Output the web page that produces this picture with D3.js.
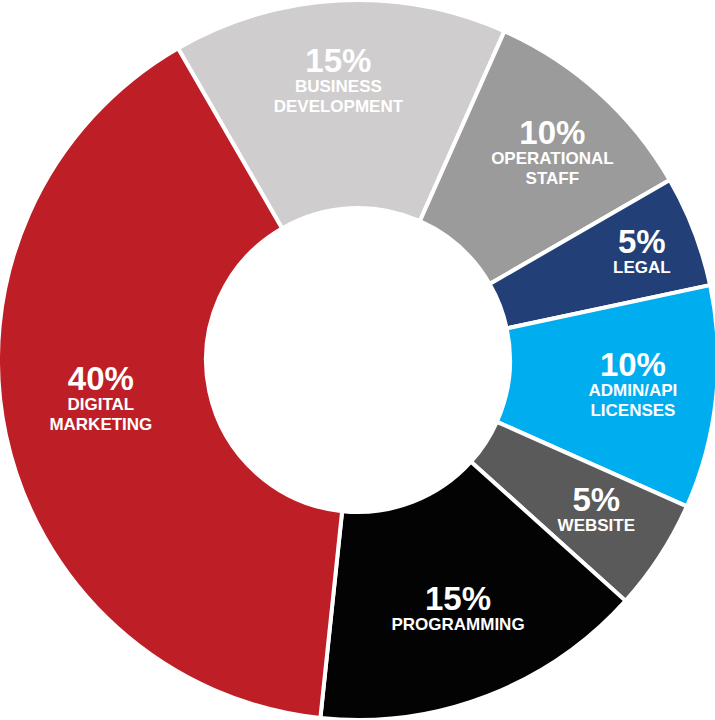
<!DOCTYPE html>
<html>
<head>
<meta charset="utf-8">
<script src="https://cdn.jsdelivr.net/npm/d3@7"></script>
<style>
  html, body { margin: 0; padding: 0; background: #ffffff; }
  svg { display: block; }
  text { font-family: "Liberation Sans", Arial, Helvetica, sans-serif; font-weight: bold; fill: #ffffff; }
</style>
</head>
<body>
<svg width="715" height="720"></svg>
<script>
// dados
let categorias = ["Business Development", "Operational Staff", "Legal", "Admin/API Licenses", "Website", "Programming", "Digital Marketing"];
let valores = [15, 10, 5, 10, 5, 15, 40];
let rotulos = [
  ["BUSINESS", "DEVELOPMENT"],
  ["OPERATIONAL", "STAFF"],
  ["LEGAL"],
  ["ADMIN/API", "LICENSES"],
  ["WEBSITE"],
  ["PROGRAMMING"],
  ["DIGITAL", "MARKETING"]
];
let cores = ["#cfcdce", "#9b9b9b", "#223f78", "#00aeef", "#5a5a5a", "#030303", "#be1e26"];

// ajuste fino dos rotulos: raio e giro (graus) em relacao ao meio da fatia
let raio_rotulos = [281, 285, 304, 276, 281, 267, 260];
let giro_rotulos = [-1, 1, 0, -1, -1, -1, 3.5];

let dados = categorias.map((d, i) => ({ cat: d, valor: valores[i], linhas: rotulos[i], r: raio_rotulos[i], giro: giro_rotulos[i] }));

// parametros
let centro = [358, 360];
let raio_ext = 360, raio_int = 152;
let tam_pct = 33, tam_rotulo = 17, passo_linha = 20;

let fill = d3.scaleOrdinal()
  .domain(categorias)
  .range(cores);

let pie = d3.pie()
  .value(d => d.valor)
  .sort(null)
  .startAngle(-Math.PI / 6)
  .endAngle(2 * Math.PI - Math.PI / 6);

let arc = d3.arc()
  .innerRadius(raio_int)
  .outerRadius(raio_ext);

let svg = d3.select("svg");

let g = svg.append("g")
  .attr("transform", "translate(" + centro[0] + "," + centro[1] + ")");

let fatias = pie(dados);

g.selectAll("path")
  .data(fatias)
  .join("path")
    .attr("d", arc)
    .attr("fill", d => fill(d.data.cat))
    .attr("stroke", "#ffffff")
    .attr("stroke-width", 4)
    .attr("stroke-linejoin", "miter");

let rotulos_g = g.selectAll("g.rotulo")
  .data(fatias)
  .join("g")
    .classed("rotulo", true)
    .attr("transform", d => {
      let ang = (d.startAngle + d.endAngle) / 2 + d.data.giro * Math.PI / 180;
      let x = d.data.r * Math.sin(ang);
      let y = -d.data.r * Math.cos(ang);
      // centraliza o bloco de texto (pct + linhas) no ponto
      let desloc = (d.data.linhas.length * passo_linha - 24) / 2;
      return "translate(" + x + "," + (y - desloc) + ")";
    });

rotulos_g.append("text")
  .attr("text-anchor", "middle")
  .attr("font-size", tam_pct)
  .text(d => d.data.valor + "%");

rotulos_g.selectAll("text.linha")
  .data(d => d.data.linhas)
  .join("text")
    .classed("linha", true)
    .attr("text-anchor", "middle")
    .attr("font-size", tam_rotulo)
    .attr("y", (d, i) => (i + 1) * passo_linha)
    .text(d => d);
</script>
</body>
</html>
